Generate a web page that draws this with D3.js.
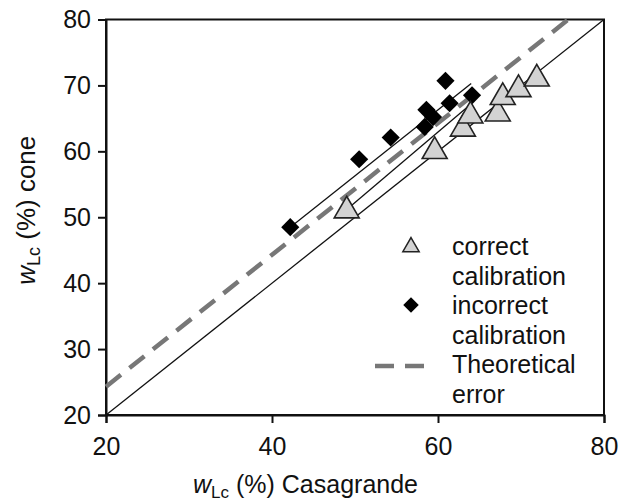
<!DOCTYPE html>
<html>
<head>
<meta charset="utf-8">
<script src="https://cdn.jsdelivr.net/npm/d3@7"></script>
<style>
  body { margin: 0; background: #fff; }
  text { font-family: "Liberation Sans", Arial, sans-serif; fill: #111; }
</style>
</head>
<body>
<div id="viz"></div>
<script>
// data
let correctX = [49, 59.6, 63, 63.9, 67.2, 67.8, 69.7, 71.9]
let correctY = [51, 60, 63.4, 65.4, 65.7, 68.2, 69.4, 71]
let incorrectX = [42.2, 50.5, 54.3, 58.4, 58.6, 59.4, 60.9, 61.4, 64.1]
let incorrectY = [48.5, 58.8, 62.1, 63.7, 66.3, 65.2, 70.7, 67.3, 68.5]
let theoretical = [[20, 24.3], [75.7, 80]]
let oneToOne = [[20, 20], [80, 80]]
let incorrectLine = [[42.2, 48.5], [64, 70.3]]
let correctLine = [[49.4, 51.6], [63.8, 67]]
let xTicks = [20, 40, 60, 80]
let yTicks = [20, 30, 40, 50, 60, 70, 80]
let legendText = ['correct', 'calibration', 'incorrect', 'calibration', 'Theoretical', 'error']

let svgWidth = 619, svgHeight = 504
let margin = { left: 106, right: 15, top: 19.5, bottom: 89 }

const svg = d3.select('#viz')
    .append('svg')
    .attr('width', svgWidth)
    .attr('height', svgHeight)

let xScale = d3.scaleLinear().domain([20, 80]).range([margin.left, svgWidth - margin.right])
let yScale = d3.scaleLinear().domain([20, 80]).range([svgHeight - margin.bottom, margin.top])

let line = d3.line().x(d => xScale(d[0])).y(d => yScale(d[1]))

// frame
svg.append('rect')
    .attr('x', xScale(20)).attr('y', yScale(80))
    .attr('width', xScale(80) - xScale(20))
    .attr('height', yScale(20) - yScale(80))
    .attr('fill', 'none').attr('stroke', '#111').attr('stroke-width', 2)

// axes
svg.append('g')
    .attr('transform', `translate(0,${yScale(20)})`)
    .call(d3.axisBottom(xScale).tickValues(xTicks).tickSize(8).tickPadding(14))
svg.append('g')
    .attr('transform', `translate(${xScale(20)},0)`)
    .call(d3.axisLeft(yScale).tickValues(yTicks).tickSize(8).tickPadding(7))
svg.selectAll('.domain').attr('stroke', '#111').attr('stroke-width', 2)
svg.selectAll('.tick line').attr('stroke', '#111').attr('stroke-width', 2)
svg.selectAll('.tick text')
    .attr('font-size', 25)
    .attr('font-family', '"Liberation Sans", Arial, sans-serif')
    .attr('fill', '#111')

// lines
svg.append('path').datum(oneToOne).attr('d', line)
    .attr('fill', 'none').attr('stroke', '#111').attr('stroke-width', 1.3)
svg.append('path').datum(theoretical).attr('d', line)
    .attr('fill', 'none').attr('stroke', '#777').attr('stroke-width', 4.5)
    .attr('stroke-dasharray', '19,11')
svg.append('path').datum(incorrectLine).attr('d', line)
    .attr('fill', 'none').attr('stroke', '#111').attr('stroke-width', 1.3)
svg.append('path').datum(correctLine).attr('d', line)
    .attr('fill', 'none').attr('stroke', '#111').attr('stroke-width', 1.3)

let tri = d3.symbol().type(d3.symbolTriangle).size(270)
let dia = d3.symbol().type(d3.symbolSquare).size(165)

// incorrect calibration
svg.append('g').selectAll('path')
    .data(incorrectX)
    .join('path')
    .attr('d', dia)
    .attr('transform', (d, i) => `translate(${xScale(d)},${yScale(incorrectY[i])}) rotate(45)`)
    .attr('fill', '#000')

// correct calibration
svg.append('g').selectAll('path')
    .data(correctX)
    .join('path')
    .attr('d', tri)
    .attr('transform', (d, i) => `translate(${xScale(d)},${yScale(correctY[i])})`)
    .attr('fill', '#d3d3d3').attr('stroke', '#222').attr('stroke-width', 1.6)

// legend
let legend = svg.append('g')
let lx = 411, tx = 452
legend.append('path').attr('d', d3.symbol().type(d3.symbolTriangle).size(115))
    .attr('transform', `translate(${lx},247)`)
    .attr('fill', '#d3d3d3').attr('stroke', '#222').attr('stroke-width', 1.5)
legend.append('path').attr('d', d3.symbol().type(d3.symbolSquare).size(120))
    .attr('transform', `translate(${lx},305) rotate(45)`)
    .attr('fill', '#000')
legend.append('line')
    .attr('x1', 375).attr('x2', 434).attr('y1', 366).attr('y2', 366)
    .attr('stroke', '#777').attr('stroke-width', 4.5).attr('stroke-dasharray', '19,11')
legend.selectAll('text')
    .data(legendText)
    .join('text')
    .attr('x', tx)
    .attr('y', (d, i) => 255 + i * 29.6)
    .attr('font-size', 25)
    .text(d => d)

// axis titles
let xt = svg.append('text').attr('x', 193).attr('y', 493).attr('font-size', 25)
xt.append('tspan').attr('font-style', 'italic').text('w')
xt.append('tspan').attr('font-size', 17).attr('dy', 5).text('Lc')
xt.append('tspan').attr('dy', -5).text(' (%) Casagrande')

let yt = svg.append('text')
    .attr('transform', `translate(35,${yScale(50) - 7}) rotate(-90)`)
    .attr('text-anchor', 'middle')
    .attr('font-size', 26)
yt.append('tspan').attr('font-style', 'italic').text('w')
yt.append('tspan').attr('font-size', 18).attr('dy', 5).text('Lc')
yt.append('tspan').attr('dy', -5).text(' (%) cone')
</script>
</body>
</html>
